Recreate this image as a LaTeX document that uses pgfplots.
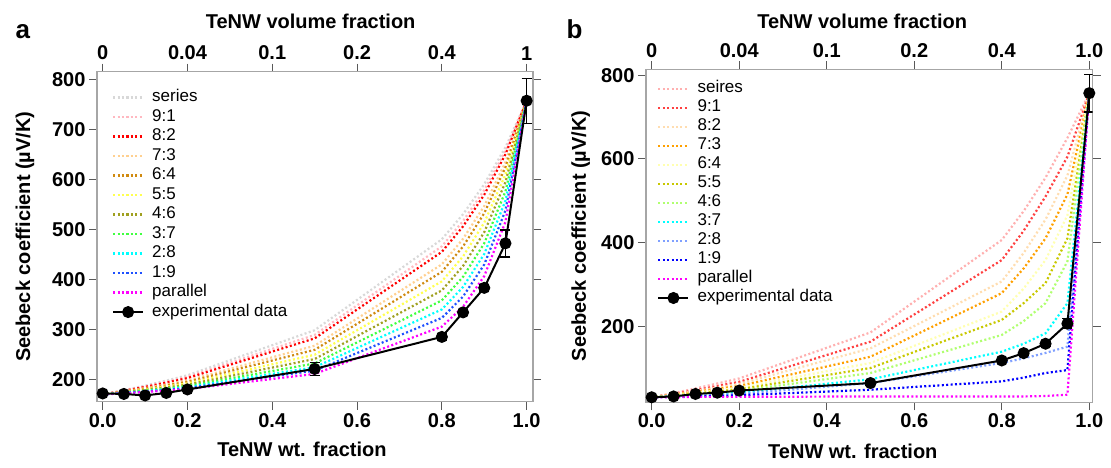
\documentclass[border=0pt]{standalone}
\usepackage{fontspec}
\setmainfont{Liberation Sans}
\usepackage{pgfplots}
\pgfplotsset{compat=1.18}
\usepackage{pgfplotstable}

\definecolor{aser}{HTML}{D8D8D8}
\definecolor{a91}{HTML}{FFB8C0}
\definecolor{a82}{HTML}{FF0000}
\definecolor{a73}{HTML}{FFD090}
\definecolor{a64}{HTML}{D08A10}
\definecolor{a55}{HTML}{FFFF50}
\definecolor{a46}{HTML}{A0A020}
\definecolor{a37}{HTML}{40FF40}
\definecolor{a28}{HTML}{00FFFF}
\definecolor{a19}{HTML}{1E50FF}
\definecolor{apar}{HTML}{FF00FF}
\definecolor{bser}{HTML}{FFB0B0}
\definecolor{b91}{HTML}{FF4040}
\definecolor{b82}{HTML}{FFDDB0}
\definecolor{b73}{HTML}{FFA000}
\definecolor{b64}{HTML}{FFFFB0}
\definecolor{b55}{HTML}{C8C800}
\definecolor{b46}{HTML}{B0FF70}
\definecolor{b37}{HTML}{00FFFF}
\definecolor{b28}{HTML}{80A0FF}
\definecolor{b19}{HTML}{0000FF}
\definecolor{bpar}{HTML}{FF00FF}

\pgfplotstableread{
x     ser   r91   r82   r73   r64   r55   r46   r37   r28   r19   par
0     170   170   170   170   170   170   170   170   170   170   170
0.05  178.5 177.8 177.2 176.1 175.5 174.8 174.2 173.6 173.1 172.7 172.3
0.1   187.7 186.1 185.0 182.7 181.5 180.0 178.8 177.6 176.6 175.7 174.9
0.15  197.6 195.2 193.5 189.9 188.0 185.8 183.9 182.0 180.4 179.0 177.7
0.2   208.4 205.1 202.7 197.8 195.2 192.1 189.5 186.8 184.6 182.7 180.8
0.5   298.4 289.0 282.1 267.4 259.2 249.4 240.8 231.9 224.3 217.6 211.0
0.8   480.1 466.0 455.0 430.0 415.1 396.0 378.0 358.0 339.9 323.0 305.5
0.85  530.1 516.5 505.9 481.0 465.7 445.9 426.7 405.0 384.8 365.6 345.1
0.9   590.2 578.5 569.1 546.6 532.3 513.3 494.3 472.1 450.7 429.7 406.6
0.95  664.1 656.4 650.0 634.1 623.7 609.3 594.2 575.8 557.0 537.6 514.9
1     757   757   757   757   757   757   757   757   757   757   757
}\tabA

\pgfplotstableread{
x     y    e
0     172  3
0.05  171  2
0.1   168  2
0.15  173  3
0.2   180  3
0.5   221  13
0.8   285  7
0.85  334  5
0.9   383  6
0.95  472  27
1     757  45
}\expA

\pgfplotstableread{
x     ser  r91  r82  r73  r64  r55  r46  r37  r28  r19  par
0     30   30   30   30   30   30   30   30   30   30   30
0.05  40   38   37   36   35   34   33   32   32   31   30
0.1   51   47   45   43   41   39   37   35   34   32   31
0.15  63   57   53   50   47   44   41   38   36   33   31
0.2   75   67   62   57   53   49   45   41   38   35   31
0.5   185  163  147  127  112  100  88   73   64   48   32
0.8   406  358  307  279  235  215  179  139  112  68   32
0.85  475  428  375  338  290  255  212  158  123  77   32
0.9   555  510  455  410  358  303  255  183  136  88   33
0.95  650  605  560  515  465  410  355  255  151  95   36
1     757  757  757  757  757  757  757  757  757  757  757
}\tabB

\pgfplotstableread{
x     y    e
0     30   3
0.05  32   3
0.1   38   4
0.15  41   4
0.2   46   5
0.5   64   5
0.8   118  4
0.85  135.5 5
0.9   158  5
0.95  206  12
1     757  45
}\expB

\pgfplotsset{
  dotline/.style={line width=2.2pt, dash pattern=on 2pt off 2.4pt},
  expline/.style={black, line width=2pt, solid, mark=*, mark size=5pt,
     error bars/.cd, y dir=both, y explicit,
     error bar style={line width=1.4pt, solid},
     error mark options={rotate=90, mark size=5pt, line width=1.4pt}},
  panel/.style={
    scale only axis, anchor=south west,
    tick align=outside, major tick length=8pt,
    axis line style={black!35, line width=1.2pt},
    every tick/.style={black!65, line width=1pt},
    tick label style={font=\fontsize{20}{24}\selectfont\bfseries},
    label style={font=\fontsize{20}{24}\selectfont\bfseries},
    xtick={0,0.2,0.4,0.6,0.8,1},
  },
  mainpanel/.style={panel,
    xtick pos=bottom, xticklabel pos=bottom, ytick pos=both, yticklabel pos=left,
    xticklabels={0.0,0.2,0.4,0.6,0.8,1.0},
    legend cell align=left,
    legend image code/.code={\draw[mark repeat=2,mark phase=2,##1] plot coordinates {(0pt,0pt) (15pt,0pt) (30pt,0pt)};},
  },
  toppanel/.style={panel, axis x line*=top, axis y line=none,
    xticklabels={0,0.04,0.1,0.2,0.4,1}},
}

\begin{document}
\begin{tikzpicture}

% ---------------- panel a ----------------
\begin{axis}[mainpanel, at={(97pt,-401.7pt)}, width=436pt, height=330pt,
  xmin=-0.0134, xmax=1.015, ymin=155.5, ymax=815,
  ytick={200,300,400,500,600,700,800},
  yticklabels={200,300,400,500,600,700,800},
  xlabel={TeNW wt. fraction},
  ylabel={Seebeck coefficient (µV/K)},
  xlabel style={at={(axis description cs:0.47,-0.145)}, anchor=center},
  ylabel style={at={(axis description cs:-0.165,0.5)}, anchor=center},
  legend style={at={(axis description cs:0.034,0.9495)}, anchor=north west, draw=none, fill=none,
     inner sep=0pt, row sep=1.5pt, font=\fontsize{17}{17}\selectfont,
     nodes={inner sep=1pt, text height=12pt, text depth=4pt},
     /tikz/every odd column/.append style={column sep=7pt}},
]
\addplot[aser, dotline] table[x=x,y=ser]{\tabA}; \addlegendentry{series}
\addplot[a91, dotline] table[x=x,y=r91]{\tabA}; \addlegendentry{9:1}
\addplot[a82, dotline] table[x=x,y=r82]{\tabA}; \addlegendentry{8:2}
\addplot[a73, dotline] table[x=x,y=r73]{\tabA}; \addlegendentry{7:3}
\addplot[a64, dotline] table[x=x,y=r64]{\tabA}; \addlegendentry{6:4}
\addplot[a55, dotline] table[x=x,y=r55]{\tabA}; \addlegendentry{5:5}
\addplot[a46, dotline] table[x=x,y=r46]{\tabA}; \addlegendentry{4:6}
\addplot[a37, dotline] table[x=x,y=r37]{\tabA}; \addlegendentry{3:7}
\addplot[a28, dotline] table[x=x,y=r28]{\tabA}; \addlegendentry{2:8}
\addplot[a19, dotline] table[x=x,y=r19]{\tabA}; \addlegendentry{1:9}
\addplot[apar, dotline] table[x=x,y=par]{\tabA}; \addlegendentry{parallel}
\addplot[expline] table[x=x,y=y,y error=e]{\expA}; \addlegendentry{experimental data}
\end{axis}
\begin{axis}[toppanel, at={(97pt,-401.7pt)}, width=436pt, height=330pt,
  xmin=-0.0134, xmax=1.015, ymin=155.5, ymax=815,
  xlabel={TeNW volume fraction},
  xlabel style={at={(axis description cs:0.49,1.154)}, anchor=center},
]
\addplot[draw=none] coordinates {(0.5,500)};
\end{axis}

% ---------------- panel b ----------------
\begin{axis}[mainpanel, at={(646pt,-402.3pt)}, width=446.7pt, height=333pt,
  xmin=-0.013, xmax=1.0078, ymin=18, ymax=814,
  ytick={200,400,600,800},
  yticklabels={200,400,600,800},
  xlabel={TeNW wt. fraction},
  ylabel={Seebeck coefficient (µV/K)},
  xlabel style={at={(axis description cs:0.463,-0.147)}, anchor=center},
  ylabel style={at={(axis description cs:-0.146,0.5)}, anchor=center},
  legend style={at={(axis description cs:0.025,0.9685)}, anchor=north west, draw=none, fill=none,
     inner sep=0pt, row sep=1pt, font=\fontsize{17}{17}\selectfont,
     nodes={inner sep=1pt, text height=12pt, text depth=4pt},
     /tikz/every odd column/.append style={column sep=7pt}},
]
\addplot[bser, dotline] table[x=x,y=ser]{\tabB}; \addlegendentry{seires}
\addplot[b91, dotline] table[x=x,y=r91]{\tabB}; \addlegendentry{9:1}
\addplot[b82, dotline] table[x=x,y=r82]{\tabB}; \addlegendentry{8:2}
\addplot[b73, dotline] table[x=x,y=r73]{\tabB}; \addlegendentry{7:3}
\addplot[b64, dotline] table[x=x,y=r64]{\tabB}; \addlegendentry{6:4}
\addplot[b55, dotline] table[x=x,y=r55]{\tabB}; \addlegendentry{5:5}
\addplot[b46, dotline] table[x=x,y=r46]{\tabB}; \addlegendentry{4:6}
\addplot[b37, dotline] table[x=x,y=r37]{\tabB}; \addlegendentry{3:7}
\addplot[b28, dotline] table[x=x,y=r28]{\tabB}; \addlegendentry{2:8}
\addplot[b19, dotline] table[x=x,y=r19]{\tabB}; \addlegendentry{1:9}
\addplot[bpar, dotline] table[x=x,y=par]{\tabB}; \addlegendentry{parallel}
\addplot[expline] table[x=x,y=y,y error=e]{\expB}; \addlegendentry{experimental data}
\end{axis}
\begin{axis}[toppanel, at={(646pt,-402.3pt)}, width=446.7pt, height=333pt,
  xmin=-0.013, xmax=1.0078, ymin=18, ymax=814,
  xticklabels={0,0.04,0.1,0.2,0.4,1.0},
  xlabel={TeNW volume fraction},
  xlabel style={at={(axis description cs:0.484,1.145)}, anchor=center},
]
\addplot[draw=none] coordinates {(0.5,500)};
\end{axis}

\node[font=\fontsize{26}{30}\selectfont\bfseries, anchor=base west] at (12pt,-39pt) {a};
\node[font=\fontsize{26}{30}\selectfont\bfseries, anchor=base west] at (563pt,-38.5pt) {b};

\pgfresetboundingbox
\path[use as bounding box] (0pt,0pt) rectangle (1111pt,-468pt);
\end{tikzpicture}
\end{document}
